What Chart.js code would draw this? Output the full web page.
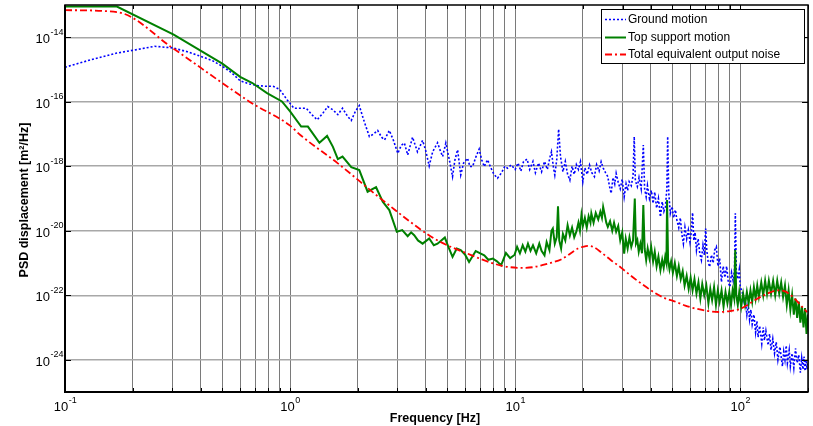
<!DOCTYPE html>
<html>
<head>
<meta charset="utf-8">
<script src="https://cdn.jsdelivr.net/npm/chart.js@4.4.1/dist/chart.umd.min.js"></script>
<style>
  html, body { margin: 0; padding: 0; background: #fff; }
  canvas { display: block; }
</style>
</head>
<body>
<canvas id="psdChart" width="813" height="426"></canvas>
<script>
"use strict";

// frequencies [Hz] and log10 of PSD [m^2/Hz]
var groundFreq = [0.1, 0.13, 0.17, 0.21, 0.25, 0.30, 0.35, 0.40, 0.45, 0.50, 0.55, 0.60, 0.66, 0.72, 0.78, 0.84, 0.90, 0.97,
    1.04, 1.10, 1.18, 1.25, 1.32, 1.40, 1.47, 1.55, 1.63, 1.71, 1.80, 1.87, 1.95, 2.03, 2.12, 2.25, 2.35, 2.45, 2.55, 2.63,
    2.76, 2.88, 3.01, 3.12, 3.22, 3.33, 3.50, 3.68, 3.88, 4.00, 4.15, 4.30, 4.52, 4.64, 4.76, 4.92, 5.10, 5.27, 5.40, 5.55,
    5.73, 5.90, 6.14, 6.30, 6.47, 6.70, 6.92, 7.10, 7.29, 7.54, 7.80, 8.05, 8.35, 8.70, 9.00, 9.25, 9.60,
    10.0, 10.3, 10.6, 10.9, 11.3, 11.6, 12.0, 12.3, 12.7, 13.1, 13.5, 13.9, 14.3, 14.5, 14.8, 15.0, 15.3, 15.6, 15.9, 16.3,
    16.7, 17.1, 17.5, 17.9, 18.3, 18.7, 19.1, 19.5, 19.98, 20.4, 20.9, 21.4, 21.9, 22.5, 23.0, 23.6, 24.1, 24.6, 25.2, 25.8,
    26.2, 26.7, 27.2, 27.7, 28.1, 28.7, 29.3, 29.9, 30.5, 31.1, 31.6, 32.1, 32.8, 33.4, 33.8, 34.2, 34.9, 35.5, 36.3, 37.1,
    37.6, 38.2, 38.7, 39.5, 40.3, 41.0, 41.7, 42.5, 43.3, 44.2, 45.0, 45.8, 46.5, 47.2, 47.6, 48.1, 48.9, 49.8, 50.6, 51.5,
    52.3, 53.3, 54.2, 55.0, 55.9, 56.8, 57.8, 58.8, 59.8, 60.6, 61.4, 62.2, 63.0, 63.9, 65.0, 66.1, 67.2, 68.3, 69.3, 70.2,
    71.0, 72.0, 73.1, 74.5, 75.8, 77.0, 78.3, 79.6, 81.0, 82.5, 84.0, 85.5, 87.0, 88.5, 90.0, 91.5, 93.0, 94.3, 95.1, 96.0,
    97.5, 99.0, 100, 102, 104, 105, 107, 108.5, 110, 111.5, 113, 115, 117, 118.6, 120, 122, 124.6, 126.5, 128, 130,
    133, 135, 137, 139.5, 142, 144.5, 147, 150, 154, 156, 158, 160, 162, 165, 167, 170, 173, 176, 179, 182,
    185, 187.5, 190, 192, 194, 196, 198, 200];
var groundLog = [-14.93, -14.70, -14.49, -14.38, -14.28, -14.33, -14.45, -14.59, -14.72, -14.90, -15.10, -15.35, -15.45, -15.50, -15.52, -15.52, -15.62, -15.94,
    -16.20, -16.20, -16.20, -16.40, -16.56, -16.35, -16.15, -16.25, -16.40, -16.20, -16.45, -16.58, -16.30, -16.12, -16.55, -17.08, -17.00, -16.89, -17.10, -17.18,
    -16.89, -17.20, -17.60, -17.35, -17.28, -17.65, -17.10, -17.55, -17.20, -17.50, -17.99, -17.55, -17.27, -17.50, -17.70, -17.28, -17.80, -18.32, -17.80, -17.49,
    -18.27, -17.90, -17.75, -18.01, -18.01, -17.70, -17.47, -17.80, -18.01, -17.80, -18.05, -18.25, -18.37, -18.20, -18.00, -18.06, -17.96,
    -18.10, -17.90, -18.15, -17.85, -17.78, -18.10, -17.85, -18.20, -17.90, -18.17, -17.85, -18.10, -17.70, -17.55, -18.05, -18.27, -17.80, -16.85, -17.70, -18.17,
    -17.85, -18.25, -18.43, -18.00, -18.25, -17.95, -18.10, -17.86, -18.48, -18.05, -18.25, -17.96, -18.20, -18.32, -17.95, -18.15, -17.86, -18.05, -18.20, -18.32,
    -18.60, -18.84, -18.35, -18.55, -18.22, -18.50, -18.70, -18.40, -18.95, -18.55, -18.75, -18.48, -18.60, -18.30, -17.08, -18.45, -18.63, -18.35, -18.70, -17.34,
    -18.70, -18.95, -18.60, -19.00, -18.75, -19.15, -18.80, -19.30, -19.00, -19.57, -19.10, -19.40, -19.26, -18.70, -17.08, -18.80, -19.46, -19.25, -19.60, -19.35,
    -19.67, -19.90, -19.60, -20.10, -20.40, -19.90, -20.25, -19.98, -20.35, -20.05, -19.44, -20.30, -20.05, -20.60, -20.25, -20.70, -20.91, -20.45, -20.75, -19.93,
    -20.60, -20.95, -21.12, -20.75, -21.00, -20.60, -20.50, -21.10, -20.85, -21.59, -21.10, -21.45, -21.10, -21.60, -21.74, -21.30, -21.55, -21.20, -19.46, -21.20,
    -21.50, -21.20, -21.74, -21.90, -22.20, -22.06, -22.60, -22.30, -22.75, -22.45, -22.90, -22.60, -23.15, -22.80, -23.30, -22.95, -23.50, -23.00, -23.40, -23.10,
    -23.55, -23.20, -23.70, -23.35, -23.80, -23.45, -24.00, -23.60, -24.20, -23.75, -24.00, -23.56, -24.10, -23.70, -24.20, -23.80, -24.25, -23.65, -24.10, -23.85,
    -24.40, -23.95, -24.30, -23.90, -24.35, -24.00, -24.30, -24.10];

var supportFreq = [0.1, 0.17, 0.304, 0.50, 0.60, 0.68, 0.79, 0.92, 1.0, 1.12, 1.2, 1.35, 1.46, 1.55, 1.63, 1.71, 1.87, 2.03,
    2.21, 2.41, 2.58, 2.76, 2.98, 3.15, 3.33, 3.45, 3.56, 3.70, 3.88, 4.15, 4.35, 4.52, 4.87, 5.05, 5.27, 5.50, 5.73, 6.00,
    6.24, 6.68, 7.00, 7.29, 7.60, 7.96, 8.30, 8.66, 9.10, 9.50, 9.93,
    10.2, 10.5, 10.8, 11.1, 11.4, 11.7, 12.0, 12.4, 12.8, 13.1, 13.5, 13.8, 14.2, 14.5, 14.7, 15.0, 15.3, 15.5, 15.7, 16.0,
    16.3, 16.7, 17.1, 17.5, 17.9, 18.3, 18.7, 19.1, 19.4, 19.7, 20.0, 20.4, 20.8, 21.2, 21.6, 21.8, 22.3, 22.8, 23.4, 23.9,
    24.3, 24.6, 25.0, 25.4, 25.8, 26.4, 27.0, 27.5, 28.1, 28.7, 29.3, 29.9, 30.5, 31.0, 31.6, 32.2, 32.8, 33.4, 34.0, 34.4,
    34.9, 35.4, 36.0, 36.6, 37.1, 37.6, 38.2, 38.8, 39.5, 40.2, 41.0, 41.7, 42.5, 43.3, 44.2, 45.0, 45.7, 46.4, 47.0, 47.3,
    47.8, 48.5, 49.3, 50.2, 51.2, 52.3, 53.3, 54.4, 55.5, 56.6, 57.8, 59.0, 60.2, 61.4, 62.6, 63.9, 65.2, 66.5, 67.8, 69.2,
    70.7, 72.2, 73.6, 75.0, 76.5, 78.0, 79.5, 81.0, 82.6, 84.3, 86.0, 87.7, 89.4, 91.0, 92.5, 94.0, 95.0, 96.0, 97.5, 99.0,
    101, 103, 105, 107, 109, 111, 113, 115, 117, 119, 121, 124, 126.5, 129, 131.5, 134, 137, 140, 143, 146,
    149, 152, 155, 158, 161, 164, 167, 170, 173, 176, 179, 182, 185, 188, 191, 194, 197, 200];
var supportLog = [-13.05, -13.05, -13.92, -14.82, -15.23, -15.42, -15.73, -15.99, -16.30, -16.77, -16.77, -17.27, -17.06, -17.40, -17.78, -17.70, -18.03, -18.12,
    -18.79, -18.65, -19.10, -19.36, -20.03, -19.98, -20.17, -20.05, -20.14, -20.30, -20.40, -20.24, -20.45, -20.40, -20.21, -20.50, -20.81, -20.55, -20.60, -20.75,
    -20.97, -20.63, -20.70, -20.76, -20.90, -20.86, -20.95, -21.07, -20.69, -20.85, -20.75,
    -20.50, -20.70, -20.45, -20.65, -20.40, -20.62, -20.45, -20.70, -20.40, -20.62, -20.76, -20.35, -20.60, -20.00, -19.93, -20.40, -20.20, -19.24, -20.30, -20.55,
    -20.10, -20.30, -19.83, -20.15, -19.90, -20.20, -20.03, -19.75, -20.00, -19.51, -19.85, -19.60, -19.90, -19.55, -19.75, -19.46, -19.75, -19.45, -19.65, -19.41,
    -19.60, -19.26, -19.50, -19.75, -19.88, -19.70, -20.00, -19.75, -20.03, -19.85, -20.30, -20.05, -20.71, -20.25, -20.55, -20.20, -20.50, -20.30, -19.00, -20.40,
    -20.29, -20.65, -20.40, -20.70, -19.20, -20.55, -20.91, -20.55, -20.85, -20.50, -20.95, -20.65, -21.10, -20.80, -21.22, -20.90, -21.15, -20.81, -21.00, -19.05,
    -20.90, -21.20, -20.95, -21.30, -21.00, -21.40, -21.10, -21.50, -21.25, -21.70, -21.40, -21.80, -21.45, -21.85, -21.50, -21.95, -21.60, -22.10, -21.65, -22.00,
    -21.70, -22.25, -21.80, -22.15, -21.75, -22.30, -21.85, -22.20, -21.85, -22.35, -21.90, -22.25, -21.90, -22.30, -21.85, -22.10, -20.60, -22.00, -22.30, -21.90,
    -22.35, -21.95, -22.30, -21.90, -22.25, -21.85, -22.20, -21.75, -22.10, -21.70, -22.05, -21.60, -22.00, -21.55, -21.95, -21.55, -21.95, -21.55, -22.00, -21.55,
    -21.95, -21.60, -22.05, -21.70, -22.30, -21.85, -22.45, -22.00, -22.60, -22.10, -22.70, -22.20, -22.85, -22.35, -23.00, -22.40, -23.20, -22.60];

var totalFreq = [0.1, 0.17, 0.304, 0.5, 0.668, 1.0, 1.11, 1.63, 2.63, 4.37, 6.14, 8.66, 10.6, 12.0, 13.1, 14.5, 16.0, 18.0, 19.0,
    20.2, 21.3, 22.5, 24.1, 26.5, 29.6, 33.0, 37.4, 42.0, 47.3, 50.6, 57.0, 64, 72, 81, 90, 100, 110, 119, 130, 146,
    158, 168, 185, 198];
var totalLog = [-13.16, -13.22, -14.36, -15.42, -16.02, -16.74, -17.03, -17.91, -19.10, -20.24, -20.71, -21.08, -21.15, -21.13, -21.07, -20.99, -20.89, -20.66, -20.55,
    -20.49, -20.47, -20.52, -20.67, -20.90, -21.15, -21.42, -21.70, -21.94, -22.12, -22.18, -22.32, -22.42, -22.49, -22.52, -22.49, -22.42, -22.26, -22.11, -21.97, -21.85,
    -21.88, -22.00, -22.30, -22.52];

// tick values
var freqTicks = [0.1, 0.2, 0.3, 0.4, 0.5, 0.6, 0.7, 0.8, 0.9, 1, 2, 3, 4, 5, 6, 7, 8, 9,
    10, 20, 30, 40, 50, 60, 70, 80, 90, 100, 200];
var freqLabelExp = [-1, 0, 1, 2];
var psdLabelExp = [-24, -22, -20, -18, -16, -14];

function toPoints(freq, logs) {
    return freq.map(function(f, i) { return {x: f, y: Math.pow(10, logs[i])}; });
}

var FONT = '"Liberation Sans", Arial, Helvetica, sans-serif';

/* frame, inner ticks, superscript labels, axis titles, legend */
var decor = {
    id: 'decor',
    afterDraw: function(chart) {
        var ctx = chart.ctx, a = chart.chartArea;
        var xs = chart.scales.x, ys = chart.scales.y;
        ctx.save();

        // inward tick marks
        ctx.strokeStyle = '#000';
        ctx.lineWidth = 1;
        ctx.beginPath();
        freqTicks.forEach(function(v) {
            var px = Math.round(xs.getPixelForValue(v)) + 0.5;
            ctx.moveTo(px, a.bottom); ctx.lineTo(px, a.bottom - 4);
            ctx.moveTo(px, a.top); ctx.lineTo(px, a.top + 4);
        });
        psdLabelExp.forEach(function(e) {
            var py = Math.round(ys.getPixelForValue(Math.pow(10, e))) + 0.5;
            ctx.moveTo(a.left, py); ctx.lineTo(a.left + 6, py);
            ctx.moveTo(a.right, py); ctx.lineTo(a.right - 6, py);
        });
        ctx.stroke();

        // frame
        ctx.lineWidth = 1.5;
        ctx.strokeRect(a.left, a.top, a.right - a.left, a.bottom - a.top);
        ctx.lineWidth = 2;
        ctx.beginPath();
        ctx.moveTo(a.left, a.top); ctx.lineTo(a.left, a.bottom); ctx.lineTo(a.right, a.bottom);
        ctx.stroke();

        // tick labels 10^n
        ctx.fillStyle = '#000';
        ctx.textBaseline = 'alphabetic';
        freqLabelExp.forEach(function(e) {
            var px = xs.getPixelForValue(Math.pow(10, e));
            var sup = String(e);
            ctx.font = '13px ' + FONT;
            var w1 = ctx.measureText('10').width;
            ctx.font = '9px ' + FONT;
            var w2 = ctx.measureText(sup).width;
            var x0 = px - (w1 + w2) / 2;
            ctx.font = '13px ' + FONT;
            ctx.textAlign = 'left';
            ctx.fillText('10', x0, 411);
            ctx.font = '9px ' + FONT;
            ctx.fillText(sup, x0 + w1 + 0.5, 403);
        });
        psdLabelExp.forEach(function(e) {
            var py = ys.getPixelForValue(Math.pow(10, e));
            ctx.font = '13px ' + FONT;
            ctx.textAlign = 'right';
            ctx.fillText('10', 50, py + 6);
            ctx.font = '9px ' + FONT;
            ctx.textAlign = 'left';
            ctx.fillText(String(e), 50.5, py - 2.5);
        });

        // axis titles
        ctx.font = 'bold 12.5px ' + FONT;
        ctx.textAlign = 'center';
        ctx.textBaseline = 'middle';
        ctx.fillText('Frequency [Hz]', 435, 419);
        ctx.save();
        ctx.translate(25, 200);
        ctx.rotate(-Math.PI / 2);
        ctx.fillText('PSD displacement [m\u00b2/Hz]', 0, 0);
        ctx.restore();

        // legend box
        var lx = 601, ly = 9, lw = 203, lh = 54;
        ctx.fillStyle = '#fff';
        ctx.fillRect(lx, ly, lw, lh);
        ctx.strokeStyle = '#000';
        ctx.lineWidth = 1;
        ctx.strokeRect(lx + 0.5, ly + 0.5, lw, lh);
        var rows = [19.5, 37.5, 54.5];
        chart.data.datasets.forEach(function(ds, i) {
            ctx.strokeStyle = ds.borderColor;
            ctx.lineWidth = ds.borderWidth;
            ctx.setLineDash(ds.borderDash || []);
            ctx.beginPath();
            ctx.moveTo(605, rows[i]); ctx.lineTo(626, rows[i]);
            ctx.stroke();
            ctx.setLineDash([]);
            ctx.fillStyle = '#000';
            ctx.font = '12px ' + FONT;
            ctx.textAlign = 'left';
            ctx.textBaseline = 'middle';
            ctx.fillText(ds.label, 628, rows[i] + 0.5);
        });
        ctx.restore();
    }
};

var ctx = document.getElementById('psdChart').getContext('2d');
var psdChart = new Chart(ctx, {
    type: 'line',
    data: {
        datasets: [{
            label: 'Ground motion',
            data: toPoints(groundFreq, groundLog),
            borderColor: '#0000ff',
            borderWidth: 1.6,
            borderDash: [2, 2],
            order: 3
        }, {
            label: 'Top support motion',
            data: toPoints(supportFreq, supportLog),
            borderColor: '#008000',
            borderWidth: 2,
            order: 2
        }, {
            label: 'Total equivalent output noise',
            data: toPoints(totalFreq, totalLog),
            borderColor: '#ff0000',
            borderWidth: 1.8,
            borderDash: [7, 3, 2, 3],
            cubicInterpolationMode: 'monotone',
            order: 1
        }]
    },
    options: {
        responsive: false,
        animation: false,
        events: [],
        layout: { padding: { top: 5, right: 5, left: 0, bottom: 0 } },
        elements: { point: { radius: 0 }, line: { tension: 0, fill: false } },
        plugins: { legend: { display: false }, tooltip: { enabled: false } },
        scales: {
            x: {
                type: 'logarithmic',
                min: 0.1,
                max: 200,
                afterBuildTicks: function(scale) {
                    scale.ticks = freqTicks.map(function(v) { return {value: v}; });
                },
                afterFit: function(scale) { scale.height = 34; },
                ticks: { display: false },
                border: { display: false },
                grid: { color: '#7a7a7a', lineWidth: 1, drawTicks: false }
            },
            y: {
                type: 'logarithmic',
                min: 1e-25,
                max: 1e-13,
                afterBuildTicks: function(scale) {
                    scale.ticks = psdLabelExp.map(function(e) { return {value: Math.pow(10, e)}; });
                },
                afterFit: function(scale) { scale.width = 65; },
                ticks: { display: false },
                border: { display: false },
                grid: { color: '#a8a8a8', lineWidth: 1.5, drawTicks: false }
            }
        }
    },
    plugins: [decor]
});
</script>
</body>
</html>
